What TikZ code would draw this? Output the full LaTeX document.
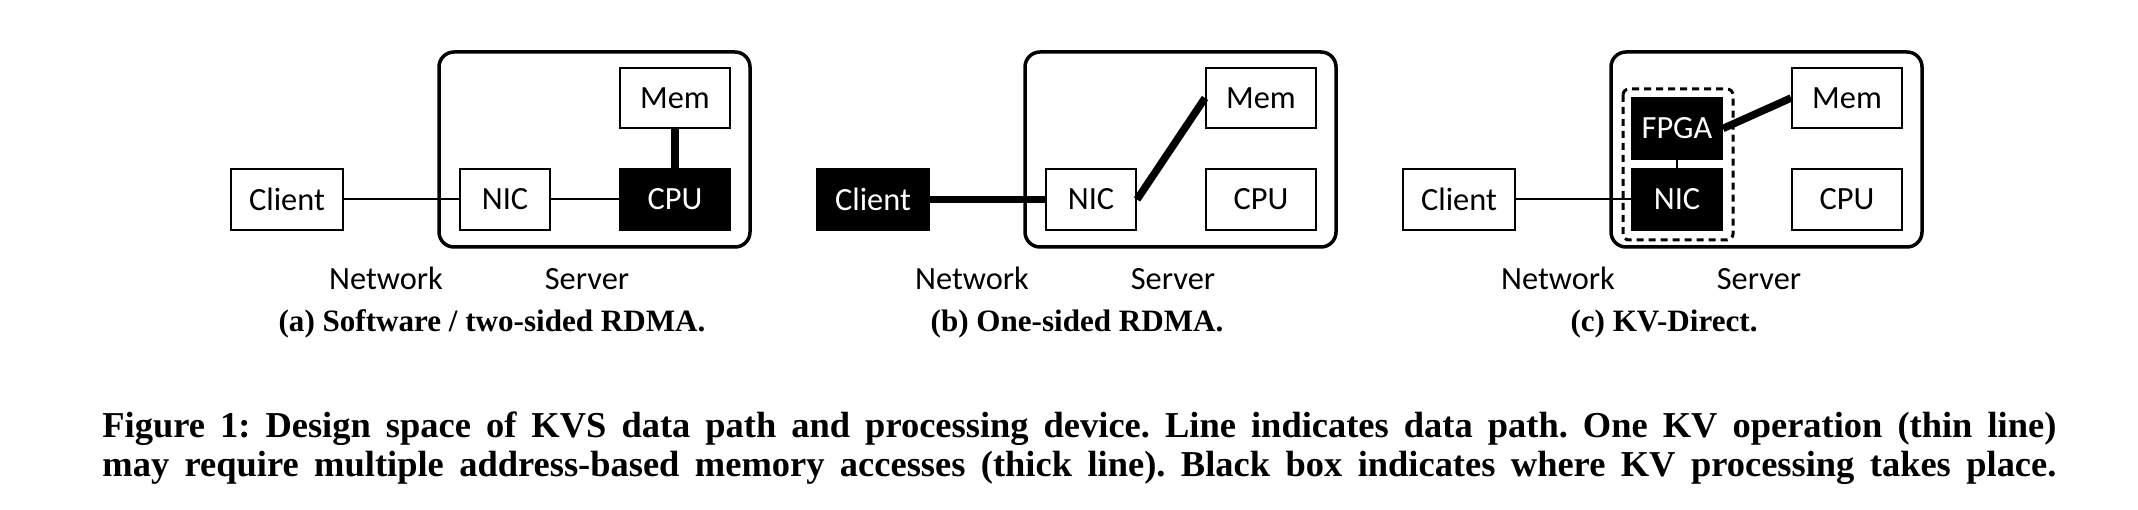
\documentclass[tikz,border=0pt]{standalone}
\usepackage{fontspec}
\setmainfont{Liberation Serif}
\setsansfont{Carlito}
\frenchspacing
\newcommand\lblfont{\sffamily\fontsize{16.25}{19}\selectfont}
\tikzset{
  box/.style={draw, line width=1bp, minimum width=55bp, minimum height=30.5bp, inner sep=0pt, font=\lblfont},
  blackbox/.style={box, fill=black, text=white},
  srv/.style={line width=1.75bp, rounded corners=7.5bp},
  fpgabox/.style={line width=1.5bp, dash pattern=on 3.5bp off 2.5bp, rounded corners=3bp},
  opline/.style={line width=1bp},
  accline/.style={line width=3.75bp},
  lbl/.style={anchor=base, inner sep=0pt, font=\lblfont},
  subcap/.style={anchor=base, inner sep=0pt, font=\bfseries\fontsize{15.6}{18}\selectfont},
  figcap/.style={anchor=base west, inner sep=0pt, font=\bfseries\fontsize{18.3}{21}\selectfont}
}
\begin{document}
\begin{tikzpicture}[x=0.5bp, y=-0.5bp]
  \useasboundingbox (0,0) rectangle (2138,510);
  % (a) software
  \draw[srv] (439,52) rectangle (750,247);
  \node[box, minimum width=56bp] (clientA) at (287,199.5) {Client};
  \node[box, minimum width=45bp] (nicA) at (505,199.5) {NIC};
  \node[box, minimum height=30bp] (memA) at (675,98) {Mem};
  \node[blackbox] (cpuA) at (675,199.5) {CPU};
  \draw[opline] (clientA) -- (nicA) -- (cpuA);
  \draw[accline] (memA) -- (cpuA);
  \node[lbl] (netA) at (386,290) {Network};
  \node[lbl] (serverA) at (587,290) {Server};
  \node[subcap] (capA) at (492,332) {(a) Software / two-sided RDMA.};
  % (b) one-sided RDMA
  \begin{scope}[shift={(586,0)}]
    \draw[srv] (439,52) rectangle (750,247);
    \node[blackbox, minimum width=56bp] (clientB) at (287,199.5) {Client};
    \node[box, minimum width=45bp] (nicB) at (505,199.5) {NIC};
    \node[box, minimum height=30bp] (memB) at (675,98) {Mem};
    \node[box] (cpuB) at (675,199.5) {CPU};
    \draw[accline] (clientB) -- (nicB);
    \draw[accline] (nicB.east) -- (memB.west);
    \node[lbl] (netB) at (386,290) {Network};
    \node[lbl] (serverB) at (587,290) {Server};
    \node[subcap] (capB) at (491,332) {(b) One-sided RDMA.};
  \end{scope}
  % (c) KV-Direct
  \begin{scope}[shift={(1172,0)}]
    \draw[srv] (439,52) rectangle (750,247);
    \draw[fpgabox] (451,89) rectangle (561,240);
    \node[box, minimum width=56bp] (clientC) at (287,199.5) {Client};
    \node[blackbox, minimum width=45bp] (fpgaC) at (505,128.5) {FPGA};
    \node[blackbox, minimum width=45bp] (nicC) at (505,199.5) {NIC};
    \node[box, minimum height=30bp] (memC) at (675,98) {Mem};
    \node[box] (cpuC) at (675,199.5) {CPU};
    \draw[opline] (clientC) -- (nicC);
    \draw[opline] (fpgaC) -- (nicC);
    \draw[accline] (fpgaC.east) -- (memC.west);
    \node[lbl] (netC) at (386,290) {Network};
    \node[lbl] (serverC) at (587,290) {Server};
    \node[subcap] (capC) at (492,332) {(c) KV-Direct.};
  \end{scope}
  \node[figcap] (figA) at (102,437) {\makebox[977bp][s]{Figure 1: Design space of KVS data path and processing device. Line indicates data path. One KV operation (thin line)}};
  \node[figcap] (figB) at (102,476) {\makebox[977bp][s]{may require multiple address-based memory accesses (thick line). Black box indicates where KV processing takes place.}};
\end{tikzpicture}
\end{document}
